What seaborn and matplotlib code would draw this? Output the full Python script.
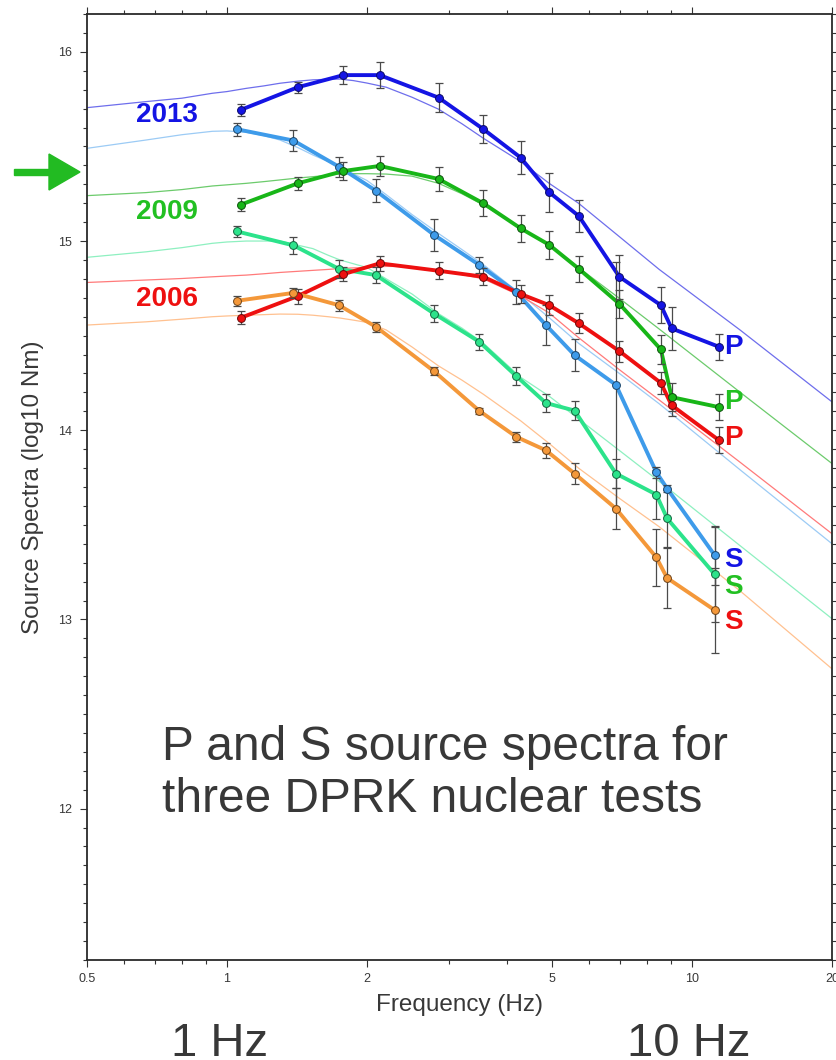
import numpy as np
import pandas as pd
import matplotlib
matplotlib.use("Agg")
import matplotlib.pyplot as plt
import seaborn as sns
from matplotlib.ticker import FixedLocator, FixedFormatter, NullFormatter, MultipleLocator
from matplotlib.patches import Polygon, Rectangle

# ---------------- data ----------------
P_FREQ = [1.07, 1.42, 1.78, 2.13, 2.85, 3.56, 4.28, 4.93, 5.71, 6.98, 8.57, 9.04, 11.43]
S_FREQ = [1.05, 1.39, 1.74, 2.09, 2.79, 3.49, 4.19, 4.85, 5.59, 6.86, 8.38, 8.84, 11.19]

P2013 = [15.693, 15.813, 15.877, 15.877, 15.758, 15.591, 15.441, 15.258, 15.132, 14.811, 14.661, 14.538, 14.441]
S2013 = [15.591, 15.531, 15.393, 15.266, 15.032, 14.873, 14.729, 14.556, 14.397, 14.240, 13.778, 13.692, 13.339]
P2009 = [15.192, 15.305, 15.370, 15.397, 15.328, 15.199, 15.067, 14.980, 14.853, 14.668, 14.427, 14.175, 14.122]
S2009 = [15.051, 14.977, 14.853, 14.820, 14.616, 14.467, 14.286, 14.144, 14.104, 13.771, 13.660, 13.534, 13.238]
P2006 = [14.594, 14.709, 14.825, 14.882, 14.843, 14.811, 14.720, 14.661, 14.565, 14.418, 14.250, 14.132, 13.947]
S2006 = [14.684, 14.726, 14.661, 14.547, 14.311, 14.102, 13.965, 13.894, 13.771, 13.586, 13.328, 13.219, 13.049]

E_P2013 = [0.031, 0.030, 0.049, 0.069, 0.075, 0.075, 0.086, 0.103, 0.086, 0.115, 0.094, 0.116, 0.070]
E_S2013 = [0.035, 0.054, 0.053, 0.062, 0.087, 0.044, 0.063, 0.106, 0.085, 0.650, 0.030, 0.020, 0.157]
E_P2009 = [0.034, 0.035, 0.046, 0.054, 0.063, 0.069, 0.073, 0.075, 0.068, 0.075, 0.075, 0.075, 0.070]
E_S2009 = [0.031, 0.044, 0.046, 0.041, 0.045, 0.041, 0.049, 0.050, 0.051, 0.077, 0.130, 0.150, 0.250]
E_P2006 = [0.034, 0.040, 0.038, 0.040, 0.044, 0.044, 0.048, 0.053, 0.053, 0.056, 0.057, 0.055, 0.069]
E_S2006 = [0.026, 0.026, 0.030, 0.026, 0.021, 0.018, 0.027, 0.041, 0.055, 0.109, 0.150, 0.160, 0.225]

# thin model spectra, read at these frequencies
MODEL_FREQ = [0.5, 0.67, 0.8, 0.93, 1.0, 1.1, 1.2, 1.3, 1.42, 1.53, 1.65, 1.75, 1.87, 2.0,
              2.2, 2.5, 2.85, 3.2, 3.56, 4.28, 4.93, 5.7, 6.98, 8.5, 12.7, 20.0]
M_P2013 = [15.705, 15.737, 15.755, 15.781, 15.790, 15.807, 15.820, 15.834, 15.845, 15.852, 15.855, 15.856, 15.848,
           15.835, 15.813, 15.760, 15.697, 15.620, 15.543, 15.420, 15.305, 15.200, 15.023, 14.850, 14.529, 14.150]
M_S2013 = [15.490, 15.534, 15.562, 15.580, 15.582, 15.575, 15.557, 15.534, 15.494, 15.455, 15.420, 15.393, 15.355,
           15.320, 15.245, 15.140, 15.040, 14.955, 14.875, 14.720, 14.595, 14.460, 14.300, 14.140, 13.790, 13.400]
M_P2009 = [15.240, 15.256, 15.272, 15.291, 15.297, 15.305, 15.314, 15.323, 15.333, 15.340, 15.348, 15.354, 15.356,
           15.356, 15.354, 15.343, 15.305, 15.250, 15.190, 15.070, 14.980, 14.860, 14.697, 14.535, 14.200, 13.824]
M_S2009 = [14.914, 14.943, 14.965, 14.988, 14.995, 15.000, 15.000, 15.000, 14.978, 14.960, 14.925, 14.900, 14.880,
           14.860, 14.800, 14.720, 14.616, 14.540, 14.460, 14.280, 14.180, 14.060, 13.893, 13.730, 13.389, 13.004]
M_P2006 = [14.781, 14.794, 14.802, 14.811, 14.815, 14.820, 14.827, 14.834, 14.840, 14.845, 14.850, 14.855, 14.858,
           14.860, 14.866, 14.865, 14.843, 14.823, 14.800, 14.710, 14.620, 14.490, 14.320, 14.160, 13.830, 13.453]
M_S2006 = [14.556, 14.573, 14.587, 14.600, 14.604, 14.608, 14.611, 14.614, 14.613, 14.608, 14.600, 14.593, 14.582,
           14.570, 14.530, 14.440, 14.340, 14.265, 14.190, 14.050, 13.930, 13.800, 13.640, 13.490, 13.150, 12.739]

X_TICKS = [0.5, 1, 2, 5, 10, 20]
X_TICK_LABELS = ["0.5", "1", "2", "5", "10", "20"]
X_MINOR = [0.6, 0.7, 0.8, 0.9, 3, 4, 6, 7, 8, 9]
Y_TICKS = [12, 13, 14, 15, 16]
Y_TICK_LABELS = ["12", "13", "14", "15", "16"]

YEAR_LABELS = ["2013", "2009", "2006"]
YEAR_LABEL_Y = [15.667, 15.153, 14.693]
END_LABELS = ["P", "P", "P", "S", "S", "S"]
END_LABEL_Y = [14.441, 14.150, 13.958, 13.312, 13.171, 12.986]

# ---------------- style ----------------
sns.set_style("ticks")
plt.rcParams["font.family"] = ["Liberation Sans", "DejaVu Sans"]

BLUE = "#1414E4"
LBLUE = "#3E9BEA"
GREEN = "#18B618"
SGREEN = "#2CE38B"
RED = "#EE1010"
ORANGE = "#F4983A"
TXT = "#383838"

series = [
    (P_FREQ, P2013, E_P2013, BLUE, "#6E6EEC", M_P2013),
    (S_FREQ, S2013, E_S2013, LBLUE, "#9CCBF5", M_S2013),
    (P_FREQ, P2009, E_P2009, GREEN, "#6CCB6C", M_P2009),
    (S_FREQ, S2009, E_S2009, SGREEN, "#8EF0C0", M_S2009),
    (P_FREQ, P2006, E_P2006, RED, "#FF7A7A", M_P2006),
    (S_FREQ, S2006, E_S2006, ORANGE, "#FFC190", M_S2006),
]

def darken(c, k=0.45):
    r, g, b = matplotlib.colors.to_rgb(c)
    return (r * k, g * k, b * k)

W, H = 836, 1060
def fx(x):
    return x / W
def fy(y):
    return 1 - y / H

fig = plt.figure(figsize=(W / 100, H / 100), dpi=100)
ax = fig.add_axes([fx(87), fy(960), (832 - 87) / W, (960 - 14) / H])

for f, v, e, col, mcol, model in series:
    sns.lineplot(x=MODEL_FREQ, y=model, color=mcol, linewidth=0.9, ax=ax, zorder=1)

for f, v, e, col, mcol, model in series:
    sns.lineplot(x=f, y=v, color=col, linewidth=2.8, ax=ax, zorder=2)

for f, v, e, col, mcol, model in series:
    ax.errorbar(f, v, yerr=e, fmt="none", ecolor="#4a4a4a", elinewidth=0.9,
                capsize=3, capthick=0.9, zorder=3)

for f, v, e, col, mcol, model in series:
    sns.scatterplot(x=f, y=v, color=col, s=32, edgecolor=darken(col), linewidth=0.7,
                    ax=ax, zorder=4, legend=False)

ax.set_xscale("log")
ax.set_xlim(0.5, 20)
ax.set_ylim(11.2, 16.2)
ax.xaxis.set_major_locator(FixedLocator(X_TICKS))
ax.xaxis.set_major_formatter(FixedFormatter(X_TICK_LABELS))
ax.xaxis.set_minor_locator(FixedLocator(X_MINOR))
ax.xaxis.set_minor_formatter(NullFormatter())
ax.yaxis.set_major_locator(FixedLocator(Y_TICKS))
ax.yaxis.set_major_formatter(FixedFormatter(Y_TICK_LABELS))
ax.yaxis.set_minor_locator(MultipleLocator(0.1))
ax.tick_params(which="both", direction="out", top=True, right=True,
               color="#333333", width=0.8, labelsize=9, labelcolor=TXT)
ax.tick_params(which="major", length=5)
ax.tick_params(which="minor", length=2.8)
ax.tick_params(axis="x", which="major", pad=4)
ax.tick_params(axis="y", which="major", pad=6)
for s in ax.spines.values():
    s.set_linewidth(1.3)
    s.set_color("#2a2a2a")
ax.grid(False)

ax.set_xlabel("Frequency (Hz)", fontsize=17.5, color=TXT)
ax.set_ylabel("Source Spectra (log10 Nm)", fontsize=17.5, color=TXT)
ax.xaxis.set_label_coords(0.5, -(1005 - 960) / 946)
ax.xaxis.label.set_va("center")
ax.yaxis.set_label_coords((33 - 87) / 745, 0.5)
ax.yaxis.label.set_va("center")

year_cols = [BLUE, "#22C022", RED]
for lab, yv, c in zip(YEAR_LABELS, YEAR_LABEL_Y, year_cols):
    ax.text(0.637, yv, lab, color=c, fontsize=20, fontweight="bold",
            ha="left", va="center", zorder=5)

end_cols = [BLUE, "#22C022", RED, BLUE, "#22C022", RED]
for lab, yv, c in zip(END_LABELS, END_LABEL_Y, end_cols):
    ax.text(11.72, yv, lab, color=c, fontsize=20, fontweight="bold",
            ha="left", va="center", zorder=5)

fig.text(fx(162), fy(760), "P and S source spectra for", fontsize=34.5, color=TXT,
         ha="left", va="baseline")
fig.text(fx(162), fy(812), "three DPRK nuclear tests", fontsize=34.5, color=TXT,
         ha="left", va="baseline")
fig.text(fx(220), fy(1056), "1 Hz", fontsize=34, color=TXT, ha="center", va="baseline")
fig.text(fx(689), fy(1056), "10 Hz", fontsize=34, color=TXT, ha="center", va="baseline")

# green arrow at left
ARROW_GREEN = "#22BB22"
shaft = Rectangle((fx(14), fy(175)), fx(51) - fx(14), fy(169) - fy(175),
                  transform=fig.transFigure, color=ARROW_GREEN, zorder=5)
head = Polygon([(fx(49), fy(154)), (fx(80), fy(172)), (fx(49), fy(190))],
               closed=True, transform=fig.transFigure, color=ARROW_GREEN, zorder=5)
fig.patches.extend([shaft, head])

fig.savefig("out.png", dpi=100)
